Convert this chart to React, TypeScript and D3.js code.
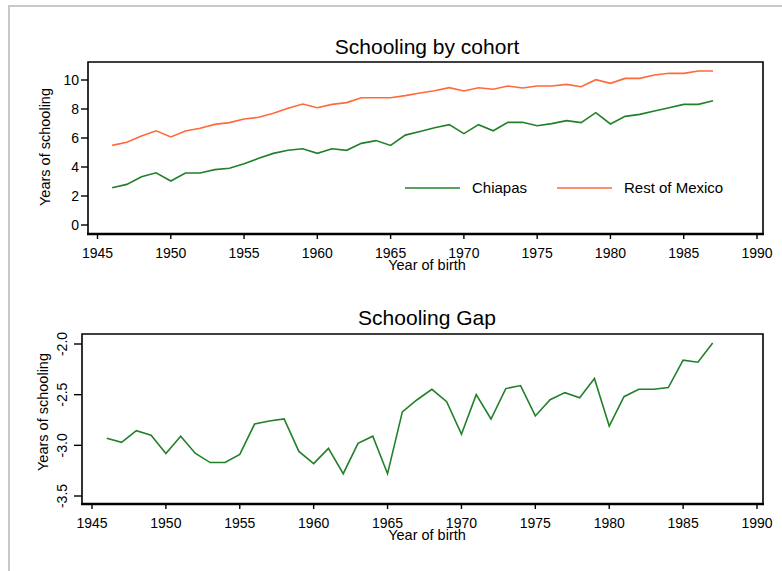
import React, { useEffect, useRef } from 'react';
import * as d3 from 'd3';

// cohorts (year of birth)
const years = [
  1946, 1947, 1948, 1949, 1950, 1951, 1952, 1953, 1954, 1955, 1956, 1957, 1958, 1959,
  1960, 1961, 1962, 1963, 1964, 1965, 1966, 1967, 1968, 1969, 1970, 1971, 1972, 1973,
  1974, 1975, 1976, 1977, 1978, 1979, 1980, 1981, 1982, 1983, 1984, 1985, 1986, 1987
];

// average years of schooling, Chiapas
const chiapas = [
  2.57, 2.8, 3.33, 3.6, 3.03, 3.59, 3.59, 3.82, 3.91, 4.23, 4.6, 4.94, 5.15, 5.26,
  4.94, 5.26, 5.15, 5.63, 5.82, 5.49, 6.2, 6.45, 6.71, 6.92, 6.3, 6.92, 6.5, 7.08,
  7.08, 6.85, 6.99, 7.2, 7.06, 7.75, 6.97, 7.49, 7.63, 7.86, 8.09, 8.32, 8.32, 8.57
];

// average years of schooling, rest of Mexico
const restOfMexico = [
  5.49, 5.7, 6.14, 6.5, 6.07, 6.48, 6.67, 6.94, 7.06, 7.31, 7.43, 7.7, 8.05, 8.34,
  8.09, 8.32, 8.44, 8.78, 8.78, 8.78, 8.92, 9.1, 9.26, 9.47, 9.24, 9.47, 9.36, 9.59,
  9.45, 9.59, 9.59, 9.7, 9.54, 10.02, 9.77, 10.11, 10.11, 10.34, 10.46, 10.46, 10.62, 10.62
];

// schooling gap (Chiapas minus rest of Mexico)
const gap = [
  -2.93, -2.97, -2.855, -2.9, -3.08, -2.91, -3.08, -3.17, -3.17, -3.09, -2.79, -2.76, -2.74, -3.06,
  -3.18, -3.03, -3.28, -2.98, -2.91, -3.28, -2.67, -2.55, -2.447, -2.57, -2.89, -2.5, -2.74, -2.44,
  -2.41, -2.71, -2.55, -2.48, -2.53, -2.34, -2.81, -2.52, -2.447, -2.447, -2.43, -2.16, -2.18, -1.99
];

const xTicks = [1945, 1950, 1955, 1960, 1965, 1970, 1975, 1980, 1985, 1990];
const topYTicks = [0, 2, 4, 6, 8, 10];
const gapYTicks = [-3.5, -3.0, -2.5, -2.0];

const GREEN = '#23802a';
const ORANGE = '#ff6a3a';
const FONT = '"Liberation Sans", Arial, sans-serif';

const App: React.FC = () => {
  const svgRef = useRef<SVGSVGElement>(null);

  useEffect(() => {
    if (!svgRef.current) return;
    const svg = d3.select(svgRef.current);
    svg.selectAll('*').remove();

    // window border
    svg.append('path')
      .attr('d', 'M9,571 V6 H782')
      .attr('fill', 'none')
      .attr('stroke', '#c8c8c8')
      .attr('stroke-width', 2);

    const drawFrame = (left: number, top: number, right: number, bottom: number) => {
      svg.append('path')
        .attr('d', `M${left},${bottom} V${top} H${right} V${bottom}`)
        .attr('fill', 'none')
        .attr('stroke', '#000')
        .attr('stroke-width', 1.6);
      svg.append('line')
        .attr('x1', left - 1).attr('x2', right + 1)
        .attr('y1', bottom).attr('y2', bottom)
        .attr('stroke', '#000')
        .attr('stroke-width', 2.6);
    };

    const drawXAxis = (x: d3.ScaleLinear<number, number>, bottom: number) => {
      const g = svg.append('g');
      xTicks.forEach(t => {
        g.append('line')
          .attr('x1', x(t)).attr('x2', x(t))
          .attr('y1', bottom).attr('y2', bottom + 5)
          .attr('stroke', '#000').attr('stroke-width', 1.4);
        g.append('text')
          .attr('x', x(t)).attr('y', bottom + 24)
          .attr('text-anchor', 'middle')
          .style('font-family', FONT).style('font-size', '14px')
          .text(t);
      });
      g.append('text')
        .attr('x', 427).attr('y', bottom + 36)
        .attr('text-anchor', 'middle')
        .style('font-family', FONT).style('font-size', '14.5px')
        .text('Year of birth');
    };

    // ---- top panel: schooling by cohort
    const t = { left: 88, top: 62, right: 763, bottom: 234 };
    const x1 = d3.scaleLinear().domain([1945, 1990]).range([97.5, 757]);
    const y1 = d3.scaleLinear().domain([0, 10]).range([225, 80]);

    svg.append('text')
      .attr('x', 427).attr('y', 54)
      .attr('text-anchor', 'middle')
      .style('font-family', FONT).style('font-size', '21px')
      .text('Schooling by cohort');

    drawFrame(t.left, t.top, t.right, t.bottom);
    drawXAxis(x1, t.bottom);

    topYTicks.forEach(v => {
      svg.append('line')
        .attr('x1', t.left - 7).attr('x2', t.left)
        .attr('y1', y1(v)).attr('y2', y1(v))
        .attr('stroke', '#000').attr('stroke-width', 1.4);
      svg.append('text')
        .attr('x', t.left - 9).attr('y', y1(v) + 5)
        .attr('text-anchor', 'end')
        .style('font-family', FONT).style('font-size', '14px')
        .text(v);
    });
    svg.append('text')
      .attr('transform', `translate(50,147) rotate(-90)`)
      .attr('text-anchor', 'middle')
      .style('font-family', FONT).style('font-size', '14.5px')
      .text('Years of schooling');

    const line1 = d3.line<number>()
      .x((_, i) => x1(years[i]))
      .y(d => y1(d));

    svg.append('path')
      .datum(restOfMexico)
      .attr('fill', 'none').attr('stroke', ORANGE).attr('stroke-width', 1.6)
      .attr('d', line1);
    svg.append('path')
      .datum(chiapas)
      .attr('fill', 'none').attr('stroke', GREEN).attr('stroke-width', 1.6)
      .attr('d', line1);

    // legend
    const legend = [
      { label: 'Chiapas', color: GREEN, x: 405 },
      { label: 'Rest of Mexico', color: ORANGE, x: 557 }
    ];
    legend.forEach(l => {
      svg.append('line')
        .attr('x1', l.x).attr('x2', l.x + 55)
        .attr('y1', 188).attr('y2', 188)
        .attr('stroke', l.color).attr('stroke-width', 1.6);
      svg.append('text')
        .attr('x', l.x + 67).attr('y', 193)
        .style('font-family', FONT).style('font-size', '15px')
        .text(l.label);
    });

    // ---- bottom panel: schooling gap
    const b = { left: 82, top: 334, right: 763, bottom: 504 };
    const x2 = d3.scaleLinear().domain([1945, 1990]).range([92, 757]);
    const y2 = d3.scaleLinear().domain([-3.5, -2.0]).range([496, 344]);

    svg.append('text')
      .attr('x', 427).attr('y', 325)
      .attr('text-anchor', 'middle')
      .style('font-family', FONT).style('font-size', '21px')
      .text('Schooling Gap');

    drawFrame(b.left, b.top, b.right, b.bottom);
    drawXAxis(x2, b.bottom);

    gapYTicks.forEach(v => {
      svg.append('line')
        .attr('x1', b.left - 8).attr('x2', b.left)
        .attr('y1', y2(v)).attr('y2', y2(v))
        .attr('stroke', '#000').attr('stroke-width', 1.4);
      svg.append('text')
        .attr('transform', `translate(67,${y2(v)}) rotate(-90)`)
        .attr('text-anchor', 'middle')
        .style('font-family', FONT).style('font-size', '14px')
        .text(v.toFixed(1));
    });
    svg.append('text')
      .attr('transform', `translate(48,412) rotate(-90)`)
      .attr('text-anchor', 'middle')
      .style('font-family', FONT).style('font-size', '14.5px')
      .text('Years of schooling');

    const line2 = d3.line<number>()
      .x((_, i) => x2(years[i]))
      .y(d => y2(d));

    svg.append('path')
      .datum(gap)
      .attr('fill', 'none').attr('stroke', GREEN).attr('stroke-width', 1.6)
      .attr('d', line2);
  }, []);

  return (
    <svg
      ref={svgRef}
      width={782}
      height={571}
      style={{ position: 'absolute', left: 0, top: 0, background: '#fff' }}
    />
  );
};

export default App;
